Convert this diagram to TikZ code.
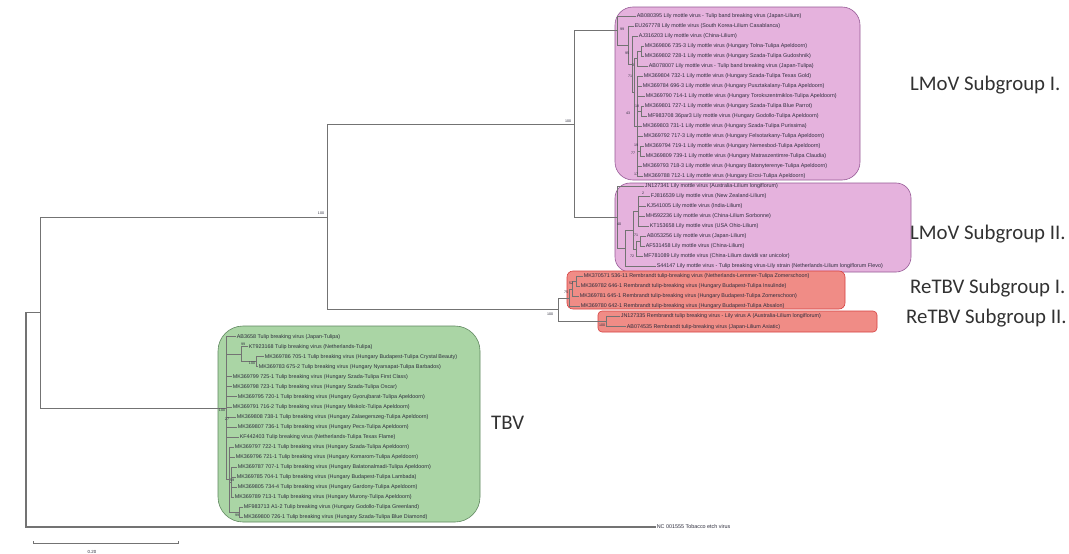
\documentclass[tikz,border=0pt]{standalone}
\usepackage{fontspec}
\setmainfont{Liberation Sans}
\newfontfamily\grpfont{Carlito}
\usetikzlibrary{calc}
\definecolor{lmovfill}{RGB}{229,178,221}
\definecolor{lmovedge}{RGB}{150,90,150}
\definecolor{retfill}{RGB}{240,140,134}
\definecolor{retedge}{RGB}{214,64,64}
\definecolor{tbvfill}{RGB}{170,213,165}
\definecolor{tbvedge}{RGB}{95,135,95}
\definecolor{treeline}{RGB}{115,115,115}
\definecolor{leaftext}{RGB}{45,45,60}
\definecolor{grptext}{RGB}{50,50,50}
\newcommand\rowy[1]{16+(#1-1)*10.02}
\newcommand\lf[4]{\node[leaf] (#1) at (#2,{\rowy{#3}}) {#4};}
\newcommand\nd[3]{\coordinate (#1) at (#2,{\rowy{#3}});}
\newcommand\bt[4]{\node[boot] (#1) at (#2,#3) {#4};}
\begin{document}
\begin{tikzpicture}[x=1pt,y=-1pt,
  leaf/.style={anchor=west,inner sep=0.6pt,font=\fontsize{5.4}{6}\selectfont,text=leaftext},
  br/.style={draw=treeline,line width=0.55pt},
  brthick/.style={draw=treeline,line width=1.2pt},
  boot/.style={inner sep=0.3pt,font=\fontsize{3.6}{4}\selectfont,text=leaftext},
  grp/.style={anchor=west,inner sep=0pt,font=\grpfont\fontsize{20.8}{24}\selectfont,text=grptext},
  lmovbox/.style={fill=lmovfill,draw=lmovedge,line width=0.6pt},
  retbox/.style={fill=retfill,draw=retedge,line width=0.6pt},
  tbvbox/.style={fill=tbvfill,draw=tbvedge,line width=0.6pt}]
\useasboundingbox[fill=white] (0,0) rectangle (1069,554);
% group boxes
\path[lmovbox,rounded corners=18pt] (615,7) rectangle (860,180);
\path[lmovbox,rounded corners=15pt] (615,183) rectangle (911,272);
\path[retbox,rounded corners=6pt] (567,271) rectangle (845,309);
\path[retbox,rounded corners=4pt] (598,311) rectangle (877,332);
\path[tbvbox,rounded corners=25pt] (218,326) rectangle (480,522);
% ---------- leaves: LMoV subgroup I
\lf{l1}{636}{1}{AB080395 Lily mottle virus - Tulip band breaking virus (Japan-Lilium)}
\lf{l2}{634}{2}{EU267778 Lily mottle virus (South Korea-Lilium Casablanca)}
\lf{l3}{638}{3}{AJ316203 Lily mottle virus (China-Lilium)}
\lf{l4}{644}{4}{MK369806 735-3 Lily mottle virus (Hungary Tolna-Tulipa Apeldoorn)}
\lf{l5}{644}{5}{MK369802 728-1 Lily mottle virus (Hungary Szada-Tulipa Gudoshnik)}
\lf{l6}{648}{6}{AB078007 Lily mottle virus - Tulip band breaking virus (Japan-Tulipa)}
\lf{l7}{643}{7}{MK369804 732-1 Lily mottle virus (Hungary Szada-Tulipa Texas Gold)}
\lf{l8}{642}{8}{MK369784 696-3 Lily mottle virus (Hungary Pusztakalany-Tulipa Apeldoorn)}
\lf{l9}{645}{9}{MK369790 714-1 Lily mottle virus (Hungary Torokszentmiklos-Tulipa Apeldoorn)}
\lf{l10}{644}{10}{MK369801 727-1 Lily mottle virus (Hungary Szada-Tulipa Blue Parrot)}
\lf{l11}{647}{11}{MF983708 36par3 Lily mottle virus (Hungary Godollo-Tulipa Apeldoorn)}
\lf{l12}{642}{12}{MK369803 731-1 Lily mottle virus (Hungary Szada-Tulipa Purissima)}
\lf{l13}{643}{13}{MK369792 717-3 Lily mottle virus (Hungary Felsotarkany-Tulipa Apeldoorn)}
\lf{l14}{644}{14}{MK369794 719-1 Lily mottle virus (Hungary Nemesbod-Tulipa Apeldoorn)}
\lf{l15}{645}{15}{MK369809 739-1 Lily mottle virus (Hungary Matraszentimre-Tulipa Claudia)}
\lf{l16}{642}{16}{MK369793 718-3 Lily mottle virus (Hungary Batonyterenye-Tulipa Apeldoorn)}
\lf{l17}{643}{17}{MK369788 712-1 Lily mottle virus (Hungary Ercsi-Tulipa Apeldoorn)}
% ---------- LMoV subgroup II
\lf{l18}{644}{18}{JN127341 Lily mottle virus (Australia-Lilium longiflorum)}
\lf{l19}{650}{19}{FJ816539 Lily mottle virus (New Zealand-Lilium)}
\lf{l20}{646}{20}{KJ541005 Lily mottle virus (India-Lilium)}
\lf{l21}{645}{21}{MH592236 Lily mottle virus (China-Lilium Sorbonne)}
\lf{l22}{649}{22}{KT153658 Lily mottle virus (USA Ohio-Lilium)}
\lf{l23}{646}{23}{AB053256 Lily mottle virus (Japan-Lilium)}
\lf{l24}{645}{24}{AF531458 Lily mottle virus (China-Lilium)}
\lf{l25}{643}{25}{MF781089 Lily mottle virus (China-Lilium davidii var unicolor)}
\lf{l26}{656}{26}{S44147 Lily mottle virus - Tulip breaking virus-Lily strain (Netherlands-Lilium longiflorum Flevo)}
% ---------- ReTBV
\lf{l27}{583}{27}{MK370571 536-11 Rembrandt tulip-breaking virus (Netherlands-Lemmer-Tulipa Zomerschoon)}
\lf{l28}{580}{28}{MK369782 646-1 Rembrandt tulip-breaking virus (Hungary Budapest-Tulipa Insulinde)}
\lf{l29}{579}{29}{MK369781 645-1 Rembrandt tulip-breaking virus (Hungary Budapest-Tulipa Zomerschoon)}
\lf{l30}{580}{30}{MK369780 642-1 Rembrandt tulip-breaking virus (Hungary Budapest-Tulipa Absalon)}
\lf{l31}{620}{31}{JN127335 Rembrandt tulip breaking virus - Lily virus A (Australia-Lilium longiflorum)}
\lf{l32}{626}{32}{AB074535 Rembrandt tulip-breaking virus (Japan-Lilium Asiatic)}
% ---------- TBV
\lf{l33}{236}{33}{AB3658 Tulip breaking virus (Japan-Tulipa)}
\lf{l34}{248}{34}{KT923168 Tulip breaking virus (Netherlands-Tulipa)}
\lf{l35}{264}{35}{MK369786 705-1 Tulip breaking virus (Hungary Budapest-Tulipa Crystal Beauty)}
\lf{l36}{258}{36}{MK369783 675-2 Tulip breaking virus (Hungary Nyarsapat-Tulipa Barbados)}
\lf{l37}{232}{37}{MK369799 725-1 Tulip breaking virus (Hungary Szada-Tulipa First Class)}
\lf{l38}{232}{38}{MK369798 723-1 Tulip breaking virus (Hungary Szada-Tulipa Oscar)}
\lf{l39}{237}{39}{MK369795 720-1 Tulip breaking virus (Hungary Gyorujbarat-Tulipa Apeldoorn)}
\lf{l40}{232}{40}{MK369791 716-2 Tulip breaking virus (Hungary Miskolc-Tulipa Apeldoorn)}
\lf{l41}{236}{41}{MK369808 738-1 Tulip breaking virus (Hungary Zalaegerszeg-Tulipa Apeldoorn)}
\lf{l42}{237}{42}{MK369807 736-1 Tulip breaking virus (Hungary Pecs-Tulipa Apeldoorn)}
\lf{l43}{239}{43}{KF442403 Tulip breaking virus (Netherlands-Tulipa Texas Flame)}
\lf{l44}{234}{44}{MK369797 722-1 Tulip breaking virus (Hungary Szada-Tulipa Apeldoorn)}
\lf{l45}{235}{45}{MK369796 721-1 Tulip breaking virus (Hungary Komarom-Tulipa Apeldoorn)}
\lf{l46}{237}{46}{MK369787 707-1 Tulip breaking virus (Hungary Balatonalmadi-Tulipa Apeldoorn)}
\lf{l47}{236}{47}{MK369785 704-1 Tulip breaking virus (Hungary Budapest-Tulipa Lambada)}
\lf{l48}{237}{48}{MK369805 734-4 Tulip breaking virus (Hungary Gardony-Tulipa Apeldoorn)}
\lf{l49}{234}{49}{MK369789 713-1 Tulip breaking virus (Hungary Murony-Tulipa Apeldoorn)}
\lf{l50}{243}{50}{MF983713 A1-2 Tulip breaking virus (Hungary Godollo-Tulipa Greenland)}
\lf{l51}{243}{51}{MK369800 726-1 Tulip breaking virus (Hungary Szada-Tulipa Blue Diamond)}
% outgroup
\lf{nc}{656}{52}{NC 001555 Tobacco etch virus}
% ---------- internal nodes
\nd{NA1}{641}{4.5}
\nd{NA}{637}{5.25}
\nd{NB1}{641}{10.5}
\nd{NB2}{640}{14.5}
\nd{NB}{637}{12}
\nd{N4}{634}{8.625}
\nd{N3}{632}{5.8125}
\nd{N2}{628}{3.906}
\nd{N1}{617}{2.453}
\nd{M5}{640}{23.5}
\nd{M4}{636}{24.25}
\nd{M3}{638}{20.5}
\nd{M2}{633}{22.375}
\nd{M1}{625}{24.19}
\nd{M0}{617}{21.09}
\nd{R1b}{576}{27.5}
\nd{R1a}{572}{28.25}
\nd{R1}{569}{29.125}
\nd{R2}{606}{31.5}
\nd{TA1}{256}{35.5}
\nd{TA}{241}{34.75}
\nd{TL1}{231}{47.5}
\nd{TL2}{239}{50.5}
\nd{TL}{229}{47.25}
\nd{T0}{226}{40.125}
\nd{C}{574}{11.77}
\nd{D}{558}{30.31}
\nd{B}{327}{21.04}
\nd{A}{40}{30.58}
\nd{root}{26}{30.58}
% ---------- branches
\foreach \p/\c in {NA1/l4.west,NA1/l5.west,NA/NA1,NA/l6.west,
  NB1/l10.west,NB1/l11.west,NB2/l14.west,NB2/l15.west,
  NB/l7.west,NB/l8.west,NB/l9.west,NB/NB1,NB/l12.west,NB/l13.west,NB/NB2,NB/l16.west,NB/l17.west,
  N4/NA,N4/NB,N3/l3.west,N3/N4,N2/l2.west,N2/N3,N1/l1.west,N1/N2,
  M5/l23.west,M5/l24.west,M4/M5,M4/l25.west,
  M3/l19.west,M3/l20.west,M3/l21.west,M3/l22.west,
  M2/M3,M2/M4,M1/M2,M1/l26.west,M0/l18.west,M0/M1,
  R1b/l27.west,R1b/l28.west,R1a/R1b,R1a/l29.west,R1/R1a,R1/l30.west,
  R2/l31.west,R2/l32.west,
  TA1/l35.west,TA1/l36.west,TA/l34.west,TA/TA1,
  TL1/l46.west,TL1/l47.west,TL1/l48.west,TL1/l49.west,
  TL2/l50.west,TL2/l51.west,
  TL/l44.west,TL/l45.west,TL/TL1,TL/TL2,
  T0/l33.west,T0/TA,T0/l37.west,T0/l38.west,T0/l39.west,T0/l40.west,
  T0/l41.west,T0/l42.west,T0/l43.west,T0/TL,
  C/N1,C/M0,D/R1,D/R2,B/C,B/D,A/B,A/T0}
  {\draw[br] (\p) |- (\c);}
\draw[br] (root) -- (A);
\draw[brthick] (root) |- (nc.west);
% ---------- bootstrap values
\bt{b1}{622}{29}{99}
\bt{b2}{627}{53}{95}
\bt{b3}{633}{65}{3}
\bt{b4}{630}{76}{71}
\bt{b5}{637}{106}{18}
\bt{b6}{628}{113}{43}
\bt{b7}{636}{145}{19}
\bt{b8}{633}{153}{77}
\bt{b9}{636}{174}{17}
\bt{b10}{643}{193}{2}
\bt{b11}{619}{224}{40}
\bt{b12}{636}{235}{71}
\bt{b13}{632}{256}{72}
\bt{b14}{571}{283}{52}
\bt{b15}{566}{292}{75}
\bt{b16}{602}{325}{100}
\bt{b17}{550}{314}{100}
\bt{b18}{568}{121}{100}
\bt{b19}{321}{213}{100}
\bt{b20}{243}{344}{99}
\bt{b21}{252}{363}{100}
\bt{b22}{222}{410}{100}
\bt{b23}{227}{419}{27}
\bt{b24}{232}{480}{59}
\bt{b25}{237}{515}{99}
% ---------- group labels
\node[grp] (g1) at (910,85) {LMoV Subgroup I.};
\node[grp] (g2) at (910,234) {LMoV Subgroup II.};
\node[grp] (g3) at (910,288) {ReTBV Subgroup I.};
\node[grp] (g4) at (906,318) {ReTBV Subgroup II.};
\node[grp] (g5) at (491,423) {TBV};
% ---------- scale bar
\coordinate (s0) at (33,543);
\coordinate (s1) at (178,543);
\draw[br] ($(s0)+(0,-2)$) -- (s0) -- (s1) -- ($(s1)+(0,-2)$);
\node[boot,font=\fontsize{4.4}{5}\selectfont] (sl) at (92,552) {0.20};
\end{tikzpicture}
\end{document}
